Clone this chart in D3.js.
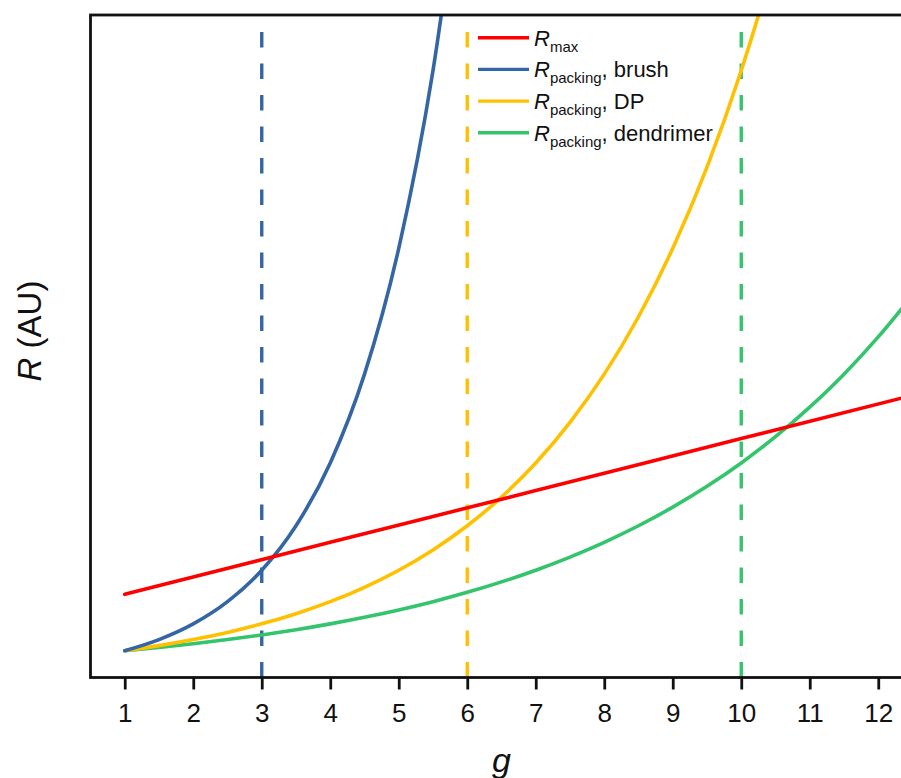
<!DOCTYPE html>
<html>
<head>
<meta charset="utf-8">
<script src="https://cdn.jsdelivr.net/npm/d3@7"></script>
<style>
  html, body { margin: 0; padding: 0; background: #ffffff; }
  svg { display: block; font-family: "Liberation Sans", Arial, sans-serif; }
</style>
</head>
<body>
<svg id="chart" width="901" height="778"></svg>
<script>
// Generation numbers (x axis ticks)
const xTicks = [1, 2, 3, 4, 5, 6, 7, 8, 9, 10, 11, 12];

// Sampled radii (arbitrary units) against generation g
const gBrush = [1, 1.5, 2, 2.5, 3, 3.5, 4, 4.5, 5, 5.5, 6];
const rBrush = [1, 1.414, 2, 2.828, 4, 5.657, 8, 11.31, 16, 22.63, 32];

const gDP = [1, 1.5, 2, 2.5, 3, 3.5, 4, 4.5, 5, 5.5, 6, 6.5, 7, 7.5, 8, 8.5, 9, 9.5, 10, 10.5, 11];
const rDP = [1, 1.189, 1.414, 1.682, 2, 2.378, 2.828, 3.364, 4, 4.757, 5.657, 6.727, 8, 9.514, 11.31, 13.45, 16, 19.03, 22.63, 26.91, 32];

const gDend = [1, 1.5, 2, 2.5, 3, 3.5, 4, 4.5, 5, 5.5, 6, 6.5, 7, 7.5, 8, 8.5, 9, 9.5, 10, 10.5, 11, 11.5, 12, 12.5];
const rDend = [1, 1.122, 1.26, 1.414, 1.587, 1.782, 2, 2.245, 2.52, 2.828, 3.175, 3.564, 4, 4.49, 5.04, 5.657, 6.35, 7.127, 8, 8.98, 10.08, 11.31, 12.7, 14.25];

const gMax = [1, 4, 7, 10, 12.5];
const rMax = [3.10, 5.04, 6.97, 8.91, 10.52];

// Generations at which each architecture reaches its packing limit
const limitG = [3, 6, 10];

const colors = { max: "#ff0000", brush: "#3465a4", DP: "#ffc000", dendrimer: "#33c46c" };

const svg = d3.select("#chart");
const pLeft = 90.5, pRight = 912.5, pTop = 15, pBottom = 677.5;

const x = d3.scaleLinear().domain([0.5, 12.5]).range([pLeft, pRight]);
const y = d3.scaleLinear().domain([0, 24.7]).range([pBottom, pTop]);

svg.append("defs").append("clipPath").attr("id", "plotClip")
  .append("rect").attr("x", pLeft).attr("y", pTop)
  .attr("width", pRight - pLeft).attr("height", pBottom - pTop);

const plot = svg.append("g").attr("clip-path", "url(#plotClip)");

// Dashed vertical markers at the limiting generations
const limitColors = [colors.brush, colors.DP, colors.dendrimer];
plot.selectAll("line.limit").data(limitG).join("line")
  .attr("class", "limit")
  .attr("x1", d => x(d)).attr("x2", d => x(d))
  .attr("y1", y(0)).attr("y2", y(24.7))
  .attr("stroke", (d, i) => limitColors[i])
  .attr("stroke-width", 3.4)
  .attr("stroke-dasharray", "15.5,16");

const line = d3.line()
  .x(d => x(d[0])).y(d => y(d[1]))
  .curve(d3.curveMonotoneX);

const curves = [
  { key: "dendrimer", g: gDend, r: rDend },
  { key: "DP", g: gDP, r: rDP },
  { key: "brush", g: gBrush, r: rBrush },
  { key: "max", g: gMax, r: rMax }
];

curves.forEach(c => {
  plot.append("path")
    .datum(c.g.map((g, i) => [g, c.r[i]]))
    .attr("d", line)
    .attr("fill", "none")
    .attr("stroke", colors[c.key])
    .attr("stroke-width", 3.6)
    .attr("stroke-linejoin", "round")
    .attr("stroke-linecap", "round");
});

// Plot frame
svg.append("rect")
  .attr("x", pLeft).attr("y", pTop)
  .attr("width", pRight - pLeft).attr("height", pBottom - pTop)
  .attr("fill", "none").attr("stroke", "#111").attr("stroke-width", 2.8);

// X axis ticks and labels
const xAxis = d3.axisBottom(x).tickValues(xTicks).tickSize(12).tickPadding(0).tickFormat(d3.format("d"));
const ax = svg.append("g").attr("transform", `translate(0,${pBottom})`).call(xAxis);
ax.select(".domain").remove();
ax.selectAll(".tick line").attr("stroke", "#111").attr("stroke-width", 2.8);
ax.selectAll(".tick text")
  .attr("fill", "#111")
  .attr("y", 44.5).attr("dy", null)
  .style("font-size", "26px")
  .style("font-family", "'Liberation Sans', Arial, sans-serif");

// Axis titles
svg.append("text")
  .attr("x", (pLeft + pRight) / 2).attr("y", 772)
  .attr("text-anchor", "middle")
  .style("font-size", "34px").style("font-style", "italic")
  .attr("fill", "#111")
  .text("g");

const yt = svg.append("text")
  .attr("transform", "translate(41,331) rotate(-90)")
  .attr("text-anchor", "middle")
  .style("font-size", "33px")
  .attr("fill", "#111");
yt.append("tspan").style("font-style", "italic").text("R");
yt.append("tspan").text(" (AU)");

// Legend
const legendRows = [
  { key: "max", sub: "max", rest: "" },
  { key: "brush", sub: "packing", rest: ", brush" },
  { key: "DP", sub: "packing", rest: ", DP" },
  { key: "dendrimer", sub: "packing", rest: ", dendrimer" }
];
const lg = svg.append("g");
legendRows.forEach((row, i) => {
  const ly = 37.7 + i * 31.7;
  lg.append("line")
    .attr("x1", 478).attr("x2", 529)
    .attr("y1", ly).attr("y2", ly)
    .attr("stroke", colors[row.key]).attr("stroke-width", 3.4);
  const t = lg.append("text")
    .attr("x", 534).attr("y", ly + 7.8)
    .style("font-size", "22px").attr("fill", "#111");
  t.append("tspan").style("font-style", "italic").text("R");
  t.append("tspan").attr("dy", 6).style("font-size", "15px").text(row.sub);
  if (row.rest) t.append("tspan").attr("dy", -6).text(row.rest);
});
</script>
</body>
</html>
